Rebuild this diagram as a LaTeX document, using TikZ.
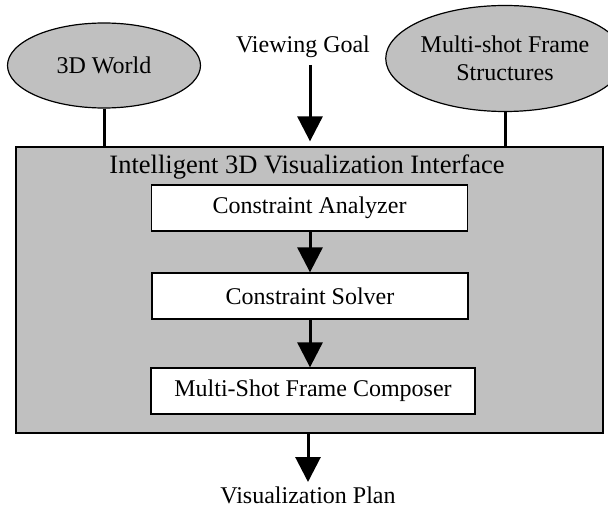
\documentclass[tikz,border=0pt]{standalone}
\usepackage{fontspec}
\setmainfont{Liberation Serif}
\usetikzlibrary{shapes.geometric,arrows.meta}
\definecolor{panelgray}{RGB}{192,192,192}
\tikzset{
  txt/.style={font=\fontsize{24}{28}\selectfont, inner sep=0pt, align=center},
  oval/.style={ellipse, draw=black, line width=1.2pt, fill=panelgray, inner sep=0pt, font=\fontsize{24}{28}\selectfont, align=center},
  stagebox/.style={draw=black, line width=1.3pt, fill=white, inner sep=0pt, minimum height=46pt, font=\fontsize{24}{28}\selectfont},
  panel/.style={draw=black, line width=1.3pt, fill=panelgray, inner sep=0pt},
  link/.style={line width=3pt},
  flow/.style={line width=3pt, -{Triangle[width=25pt,length=25pt]}}
}
\begin{document}
\begin{tikzpicture}[x=1pt,y=-1pt]
\useasboundingbox (0,0) rectangle (608,508);
% main panel
\node[panel, minimum width=587pt, minimum height=286pt] (big) at (309.5,290) {};
\node[font=\fontsize{26.5}{30}\selectfont, inner sep=0pt] (title) at (307,167) {Intelligent 3D Visualization Interface};
% inputs
\node[oval, minimum width=193pt, minimum height=85pt] (world) at (104,65.5) {3D World};
\node[oval, minimum width=207pt, minimum height=106pt] (mfs) at (505,58.5) {Multi-shot Frame\\Structures};
\node[txt] (goal) at (303,47) {Viewing Goal};
\coordinate (goalstart) at (310,65);
% stages
\node[stagebox, minimum width=316pt] (ana) at (309.5,208) {Constraint Analyzer};
\node[stagebox, minimum width=316pt] (sol) at (310,296) {Constraint Solver};
\node[stagebox, minimum width=324pt] (comp) at (313,391) {Multi-Shot Frame Composer};
% output
\node[txt, anchor=base] (plan) at (308,503.5) {Visualization Plan};
\coordinate (planend) at (308,482);
% connectors
\draw[link] (world.south) -- (world.south |- big.north);
\draw[link] (mfs.south) -- (mfs.south |- big.north);
\draw[flow, shorten >=5pt] (goalstart) -- (goalstart |- big.north);
\draw[flow] (ana.south -| sol.north) -- (sol.north);
\draw[flow] (sol.south) -- (sol.south |- comp.north);
\draw[flow] (big.south -| planend) -- (planend);
\end{tikzpicture}
\end{document}
